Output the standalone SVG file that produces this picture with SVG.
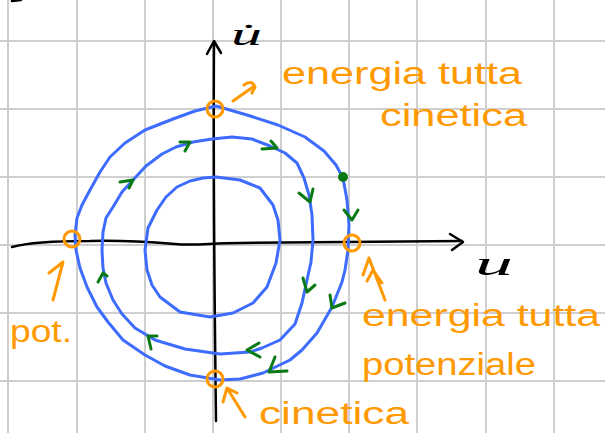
<svg xmlns="http://www.w3.org/2000/svg" width="605" height="433" viewBox="0 0 605 433">
<style>
.grid{stroke:#cfcfcf;stroke-width:2;fill:none}
.ax{stroke:#000;stroke-width:2.5;fill:none;stroke-linecap:round;stroke-linejoin:round}
.orb{stroke:#3d6cff;stroke-width:3;fill:none;stroke-linejoin:round;stroke-linecap:round}
.ar{stroke:#0a7a14;stroke-width:3;fill:none;stroke-linecap:round;stroke-linejoin:round}
.or{stroke:#ff9900;stroke-width:3;fill:none;stroke-linecap:round;stroke-linejoin:round}
.ot{fill:#ff9900;font-family:"Liberation Sans",Arial,sans-serif;font-size:31px}
.bt{fill:#000;font-family:"Liberation Serif",serif;font-style:italic}
</style>
<rect width="605" height="433" fill="#fff"/>
<g id="grid" class="grid">
<path d="M8,0V433M77,0V433M145,0V433M213,0V433M281,0V433M349,0V433M417,0V433M486,0V433M554,0V433"/>
<path d="M0,41H605M0,109H605M0,177H605M0,245H605M0,313H605M0,381H605"/>
</g>
<g id="axes">
<path class="ax" d="M12,1 L21,0"/>
<path class="ax" d="M12,247 C30,242 60,241 90,241 C120,240 150,242 175,244 C195,246 210,243 240,243 L462,241"/>
<path class="ax" d="M450,234 L463,242 L452,250"/>
<path class="ax" d="M216,421 C215,330 213,200 214,42"/>
<path class="ax" d="M207,54 L214,41 L221,53"/>
<text class="bt" x="231" y="45" font-size="32" textLength="31" lengthAdjust="spacingAndGlyphs">u̇</text>
<text class="bt" x="475" y="275" font-size="34" textLength="38" lengthAdjust="spacingAndGlyphs">u</text>
</g>
<g id="orbit-outer">
<polygon class="orb" points="216,106 247,115 278,125 305,137 324,151 336,165 343,178 347,200 349,225 348,250 345,270 342,282 332,307 317,333 302,350 290,360 263,373 240,379 220,380 190,375 165,366 145,355 123,340 108,322 97,307 87,287 80,268 76,250 75,235 77,218 82,205 90,190 100,172 110,157 125,143 145,130 173,119 195,111"/>
</g>
<g id="orbit-middle">
<polygon class="orb" points="212,139 232,137 252,139 270,146 285,153 297,163 304,178 309,195 312,215 313,240 311,262 307,280 302,303 295,324 280,340 262,348 250,352 220,354 185,349 155,340 135,328 122,314 113,300 106,283 103,268 102,250 103,232 106,218 113,207 122,192 133,180 146,166 162,154 176,147 193,142"/>
</g>
<g id="orbit-inner">
<polygon class="orb" points="216,177 240,180 260,188 273,205 278,220 280,240 276,263 267,287 253,303 233,313 210,317 180,312 160,297 152,285 147,270 145,250 148,228 157,210 166,197 177,187 190,181 203,178"/>
</g>
<g id="flow-arrows">
<path class="ar" d="M120,182 L133,180 L129,188"/>
<path class="ar" d="M180,142 L190,142 L185,151"/>
<path class="ar" d="M262,149 L277,148 L271,141"/>
<path class="ar" d="M299,193 L310,202 L313,189"/>
<path class="ar" d="M344,210 L352,220 L358,210"/>
<path class="ar" d="M303,278 L307,292 L315,285"/>
<path class="ar" d="M330,295 L332,308 L345,303"/>
<path class="ar" d="M259,343 L247,350 L260,357"/>
<path class="ar" d="M275,357 L269,372 L287,371"/>
<path class="ar" d="M157,336 L148,336 L151,349"/>
<path class="ar" d="M98,282 L103,273 L107,276"/>
<circle cx="343" cy="177" r="5" fill="#0a7a14"/>
</g>
<g id="marker-top">
<circle class="or" cx="215" cy="109" r="8"/>
<path class="or" d="M233,101 L253,87 M244,85 Q252,79 255,87 L252,93"/>
<text class="ot" x="282" y="84" textLength="240" lengthAdjust="spacingAndGlyphs">energia tutta</text>
<text class="ot" x="380" y="126" textLength="147" lengthAdjust="spacingAndGlyphs">cinetica</text>
</g>
<g id="marker-right">
<circle class="or" cx="352" cy="243" r="8"/>
<path class="or" d="M363,275 L369,258 L385,300 M367,281 L373,270 L382,283"/>
<text class="ot" x="362" y="326" textLength="238" lengthAdjust="spacingAndGlyphs">energia tutta</text>
<text class="ot" x="362" y="375" textLength="174" lengthAdjust="spacingAndGlyphs">potenziale</text>
</g>
<g id="marker-left">
<circle class="or" cx="72" cy="239" r="8"/>
<path class="or" d="M49,273 L63,262 L53,300"/>
<text class="ot" x="10" y="342" textLength="62" lengthAdjust="spacingAndGlyphs">pot.</text>
</g>
<g id="marker-bottom">
<circle class="or" cx="215" cy="379" r="8"/>
<path class="or" d="M245,417 L227,388 M223,402 L227,388 L237,393"/>
<text class="ot" x="259" y="424" textLength="150" lengthAdjust="spacingAndGlyphs">cinetica</text>
</g>
</svg>
